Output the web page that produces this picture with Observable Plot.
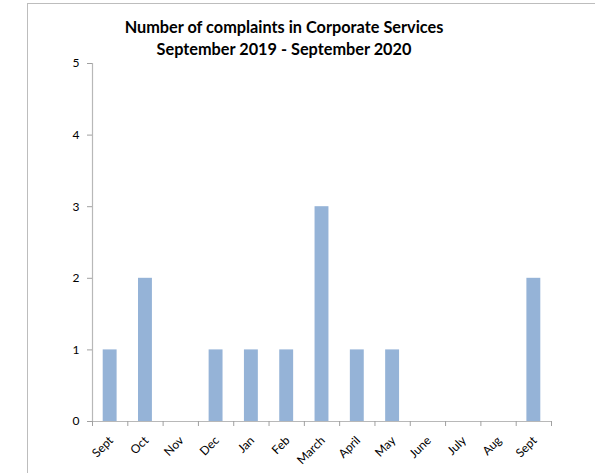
<!DOCTYPE html>
<html>
<head>
<meta charset="utf-8">
<script src="https://cdn.jsdelivr.net/npm/d3@7"></script>
<script src="https://cdn.jsdelivr.net/npm/@observablehq/plot@0.6"></script>
<style>
  html, body { margin: 0; padding: 0; background: #fff; overflow: hidden; width: 595px; height: 473px; }
  #wrap { position: relative; width: 595px; height: 473px; }
  #frame { position: absolute; left: 27px; top: 3px; width: 600px; height: 500px; border: 1px solid #bdbdbd; box-sizing: border-box; }
  #title { position: absolute; left: 0; width: 568px; top: 16px; text-align: center; font-family: Lato, "Open Sans", sans-serif; font-weight: bold; font-size: 16.3px; line-height: 22px; color: #000; }
  #chart { position: absolute; left: 0; top: 0; }
</style>
</head>
<body>
<div id="wrap">
  <div id="frame"></div>
  <div id="chart"></div>
  <div id="title">Number of complaints in Corporate Services<br>September 2019 - September 2020</div>
</div>
<script>
const months = ["Sept","Oct","Nov","Dec","Jan","Feb","March","April","May","June","July","Aug","Sept"];
const complaints = [1,2,0,1,1,1,3,1,1,0,0,0,2];
const yTicks = [0,1,2,3,4,5];

const data = months.map((m, i) => ({i, month: m, value: complaints[i]}));

const plot = Plot.plot({
  width: 595,
  height: 473,
  marginLeft: 92,
  marginRight: 44,
  marginTop: 63,
  marginBottom: 52,
  style: {fontFamily: "Lato, 'Open Sans', sans-serif", fontSize: "12px", color: "#000", background: "transparent"},
  x: {domain: [0, months.length], axis: null},
  y: {domain: [0, 5], axis: null},
  marks: [
    Plot.rectY(data.filter(d => d.value > 0), {x1: d => d.i, x2: d => d.i + 1, y: "value", fill: "#95b3d7", insetLeft: 10.7, insetRight: 10.7}),
    Plot.ruleX([0], {stroke: "#b8b8b8", strokeWidth: 1.2}),
    Plot.ruleY([0], {stroke: "#b8b8b8", strokeWidth: 1.2}),
    Plot.axisY({ticks: yTicks, tickSize: 5, tickPadding: 8, stroke: "#a0a0a0", fill: "#000", fontSize: 12, tickFormat: d => d, label: null}),
    Plot.axisX({ticks: d3.range(0, months.length + 1), tickSize: 5, tickFormat: () => "", stroke: "#a0a0a0", label: null}),
    Plot.text(data, {x: d => d.i + 0.5, y: 0, text: "month", rotate: -45, textAnchor: "end", dx: 1, dy: 17, fontSize: 12, fill: "#000"})
  ]
});
document.getElementById("chart").appendChild(plot);
</script>
</body>
</html>
